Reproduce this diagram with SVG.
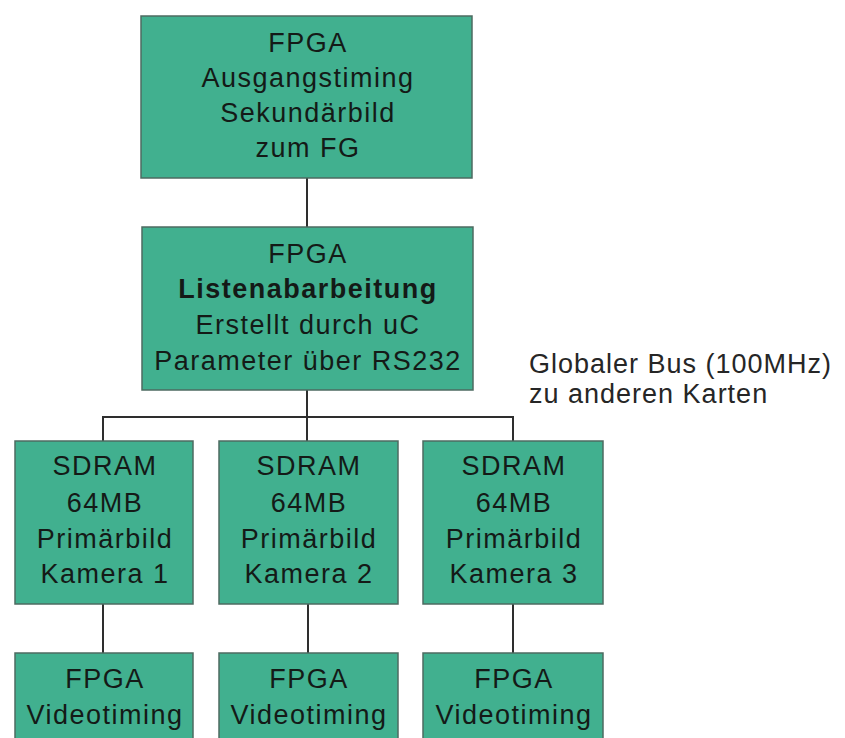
<svg xmlns="http://www.w3.org/2000/svg" width="845" height="738" viewBox="0 0 845 738">
  <style>
    .box { fill: #41b08f; stroke: #4d6b61; stroke-width: 1.5; }
    .wire { fill: none; stroke: #2e2e2e; stroke-width: 2; }
    text { font-family: "Liberation Sans", Arial, sans-serif; font-size: 27px; letter-spacing: 1.5px; fill: #141a17; text-anchor: middle; }
    .bold { font-weight: bold; }
    .note { text-anchor: start; fill: #262626; letter-spacing: 1px; }
  </style>
  <rect width="845" height="738" fill="#ffffff"/>

  <g id="connectors">
    <line class="wire" x1="307" y1="178" x2="307" y2="227"/>
    <line class="wire" x1="307" y1="390" x2="307" y2="441"/>
    <polyline class="wire" points="103,441 103,417 513,417 513,441"/>
    <line class="wire" x1="103" y1="604" x2="103" y2="653"/>
    <line class="wire" x1="308" y1="604" x2="308" y2="653"/>
    <line class="wire" x1="513" y1="604" x2="513" y2="653"/>
  </g>

  <g id="fpga-output">
    <rect class="box" x="141" y="16" width="331" height="162"/>
    <text x="308" y="52">FPGA</text>
    <text x="308" y="87">Ausgangstiming</text>
    <text x="308" y="122">Sekundärbild</text>
    <text x="308" y="157">zum FG</text>
  </g>

  <g id="fpga-list">
    <rect class="box" x="142" y="227" width="331" height="163"/>
    <text x="308" y="263">FPGA</text>
    <text x="308" y="298" class="bold">Listenabarbeitung</text>
    <text x="308" y="334">Erstellt durch uC</text>
    <text x="308" y="370">Parameter über RS232</text>
  </g>

  <g id="bus-label">
    <text class="note" x="529" y="373">Globaler Bus (100MHz)</text>
    <text class="note" x="529" y="403">zu anderen Karten</text>
  </g>

  <g id="sdram-1">
    <rect class="box" x="15" y="441" width="178" height="163"/>
    <text x="105" y="475">SDRAM</text>
    <text x="105" y="512">64MB</text>
    <text x="105" y="548">Primärbild</text>
    <text x="105" y="583">Kamera 1</text>
  </g>

  <g id="sdram-2">
    <rect class="box" x="219" y="441" width="179" height="163"/>
    <text x="309" y="475">SDRAM</text>
    <text x="309" y="512">64MB</text>
    <text x="309" y="548">Primärbild</text>
    <text x="309" y="583">Kamera 2</text>
  </g>

  <g id="sdram-3">
    <rect class="box" x="423" y="441" width="180" height="163"/>
    <text x="514" y="475">SDRAM</text>
    <text x="514" y="512">64MB</text>
    <text x="514" y="548">Primärbild</text>
    <text x="514" y="583">Kamera 3</text>
  </g>

  <g id="fpga-video-1">
    <rect class="box" x="15" y="653" width="178" height="95"/>
    <text x="105" y="688">FPGA</text>
    <text x="105" y="724">Videotiming</text>
  </g>

  <g id="fpga-video-2">
    <rect class="box" x="219" y="653" width="179" height="95"/>
    <text x="309" y="688">FPGA</text>
    <text x="309" y="724">Videotiming</text>
  </g>

  <g id="fpga-video-3">
    <rect class="box" x="423" y="653" width="180" height="95"/>
    <text x="514" y="688">FPGA</text>
    <text x="514" y="724">Videotiming</text>
  </g>
</svg>
